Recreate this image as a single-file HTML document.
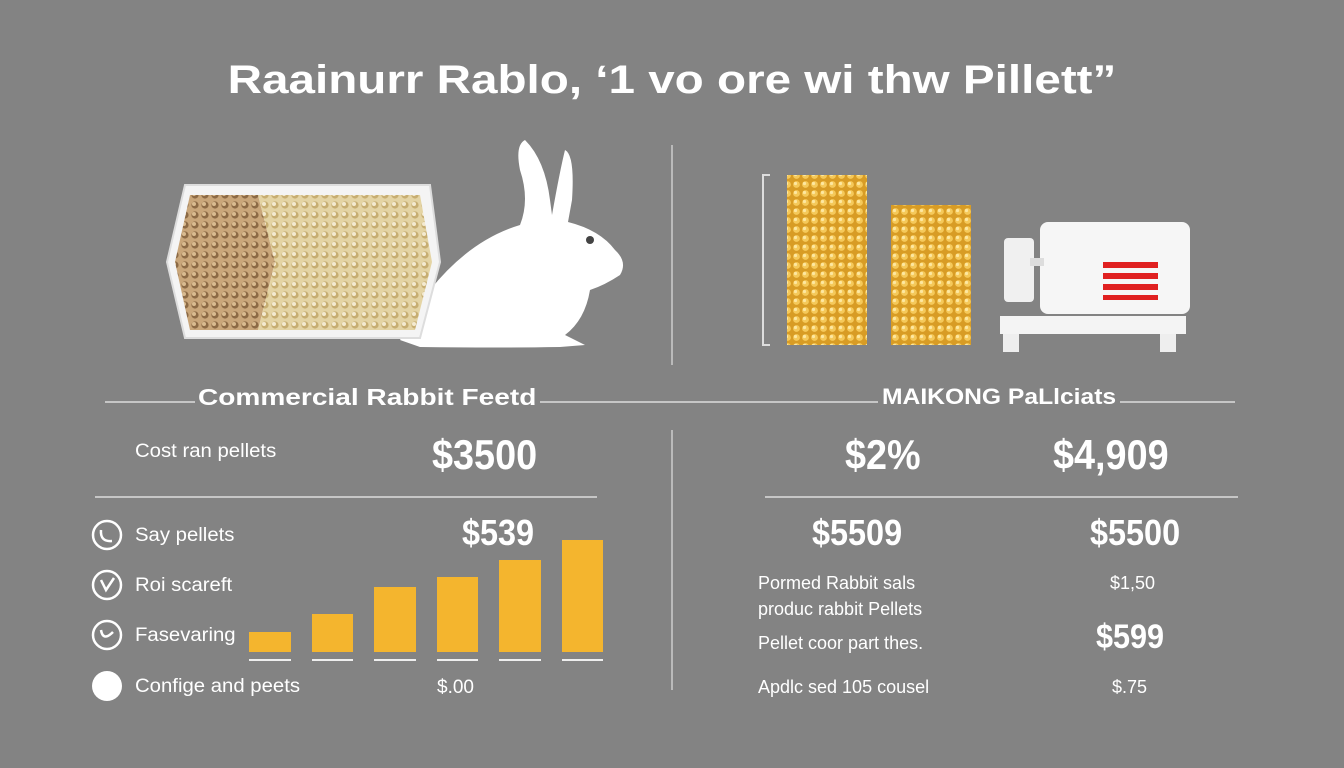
<!DOCTYPE html>
<html><head><meta charset="utf-8"><style>
html,body{margin:0;padding:0}
body{width:1344px;height:768px;background:#838383;overflow:hidden;position:relative;font-family:"Liberation Sans",sans-serif;color:#fff}
.t{position:absolute;white-space:nowrap;line-height:1}
.b{font-weight:bold}
</style></head><body>
<svg width="1344" height="768" style="position:absolute;left:0;top:0">
<defs>
<pattern id="p1" width="10" height="10" patternUnits="userSpaceOnUse"><rect width="10" height="10" fill="#c9a67a"/><circle cx="5" cy="5" r="3.6" fill="#8c6a45"/><circle cx="4" cy="4" r="2" fill="#d9bb90"/></pattern>
<pattern id="p2" width="10" height="10" patternUnits="userSpaceOnUse"><rect width="10" height="10" fill="#e4d4a4"/><circle cx="5" cy="5" r="3.6" fill="#c7ae72"/><circle cx="4" cy="4" r="2" fill="#f4ead0"/></pattern>
<pattern id="p3" width="9" height="9" patternUnits="userSpaceOnUse"><rect width="9" height="9" fill="#d89c25"/><circle cx="4.5" cy="4.5" r="3.4" fill="#f5c95a"/><circle cx="3.5" cy="3.5" r="1.6" fill="#fde7a0"/></pattern>
</defs>
<path d="M400 340 L430 290 Q470 240 520 225 Q530 200 520 170 Q515 145 525 140 Q545 160 550 200 L552 215 Q560 170 565 150 Q575 155 572 200 L568 222 Q600 230 615 250 Q628 262 620 275 Q605 285 590 290 Q585 320 565 335 L585 345 L560 347 Q500 348 420 347 Z" fill="#fff"/>
<circle cx="590" cy="240" r="4" fill="#444"/>
<path d="M185 185 L430 185 L440 262 L420 338 L185 338 L167 262 Z" fill="#f4f4f4" stroke="#ddd" stroke-width="2"/>
<path d="M190 195 L258 195 L275 262 L258 330 L190 330 L175 262 Z" fill="url(#p1)"/>
<path d="M258 195 L420 195 L432 262 L415 330 L258 330 L275 262 Z" fill="url(#p2)"/>
<line x1="672" y1="145" x2="672" y2="365" stroke="#ccc" stroke-width="1.5"/>
<path d="M770 175 L763 175 L763 345 L770 345" fill="none" stroke="#ddd" stroke-width="2"/>
<rect x="787" y="175" width="80" height="170" fill="url(#p3)"/>
<rect x="891" y="205" width="80" height="140" fill="url(#p3)"/>
<rect x="1040" y="222" width="150" height="92" rx="8" fill="#f6f6f6"/>
<rect x="1004" y="238" width="30" height="64" rx="4" fill="#f0f0f0"/>
<rect x="1030" y="258" width="14" height="8" fill="#ddd"/>
<rect x="1103" y="262" width="55" height="6" fill="#e02020"/>
<rect x="1103" y="273" width="55" height="6" fill="#e02020"/>
<rect x="1103" y="284" width="55" height="6" fill="#e02020"/>
<rect x="1103" y="295" width="55" height="5" fill="#e02020"/>
<rect x="1000" y="316" width="186" height="18" fill="#f4f4f4"/>
<rect x="1003" y="334" width="16" height="18" fill="#eee"/>
<rect x="1160" y="334" width="16" height="18" fill="#eee"/>
<line x1="105" y1="402" x2="195" y2="402" stroke="#ddd" stroke-width="1.5"/>
<line x1="540" y1="402" x2="878" y2="402" stroke="#ddd" stroke-width="1.5"/>
<line x1="1120" y1="402" x2="1235" y2="402" stroke="#ddd" stroke-width="1.5"/>
<line x1="672" y1="430" x2="672" y2="690" stroke="#ccc" stroke-width="1.5"/>
<line x1="95" y1="497" x2="597" y2="497" stroke="#ddd" stroke-width="1.5"/>
<line x1="765" y1="497" x2="1238" y2="497" stroke="#ddd" stroke-width="1.5"/>
<g fill="#f4b52e">
<rect x="249" y="632" width="42" height="20"/><rect x="312" y="614" width="41" height="38"/>
<rect x="374" y="587" width="42" height="65"/><rect x="437" y="577" width="41" height="75"/>
<rect x="499" y="560" width="42" height="92"/><rect x="562" y="540" width="41" height="112"/>
</g>
<g stroke="#eee" stroke-width="2">
<line x1="249" y1="660" x2="291" y2="660"/><line x1="312" y1="660" x2="353" y2="660"/>
<line x1="374" y1="660" x2="416" y2="660"/><line x1="437" y1="660" x2="478" y2="660"/>
<line x1="499" y1="660" x2="541" y2="660"/><line x1="562" y1="660" x2="603" y2="660"/>
</g>
<g fill="none" stroke="#fff" stroke-width="2.5">
<circle cx="107" cy="535" r="14"/><circle cx="107" cy="585" r="14"/><circle cx="107" cy="635" r="14"/>
<path d="M101 580 L106 590 L114 578"/><path d="M101 530 Q100 542 112 541"/><path d="M101 630 Q103 642 113 632"/>
</g>
<circle cx="107" cy="686" r="15" fill="#fff"/>
</svg>
<div class="t b" style="left:0;width:1344px;text-align:center;top:60px;font-size:40px;transform:scaleX(1.19)">Raainurr Rablo, ‘1 vo ore wi thw Pillett”</div>
<div class="t b" style="left:198px;top:386px;font-size:23px;transform:scaleX(1.22);transform-origin:left">Commercial Rabbit Feetd</div>
<div class="t b" style="left:882px;top:386px;font-size:22px;transform:scaleX(1.12);transform-origin:left">MAIKONG PaLlciats</div>
<div class="t" style="left:135px;top:442px;font-size:19px;transform:scaleX(1.07);transform-origin:left">Cost ran pellets</div>
<div class="t b" style="left:432px;top:434px;font-size:42px;transform:scaleX(.9);transform-origin:left">$3500</div>
<div class="t b" style="left:462px;top:515px;font-size:36px;transform:scaleX(.9);transform-origin:left">$539</div>
<div class="t" style="left:135px;top:526px;font-size:19px;transform:scaleX(1.07);transform-origin:left">Say pellets</div>
<div class="t" style="left:135px;top:576px;font-size:19px;transform:scaleX(1.07);transform-origin:left">Roi scareft</div>
<div class="t" style="left:135px;top:626px;font-size:19px;transform:scaleX(1.07);transform-origin:left">Fasevaring</div>
<div class="t" style="left:135px;top:677px;font-size:19px;transform:scaleX(1.07);transform-origin:left">Confige and peets</div>
<div class="t" style="left:437px;top:678px;font-size:19px">$.00</div>
<div class="t b" style="left:845px;top:434px;font-size:42px;transform:scaleX(.9);transform-origin:left">$2%</div>
<div class="t b" style="left:1053px;top:434px;font-size:42px;transform:scaleX(.9);transform-origin:left">$4,909</div>
<div class="t b" style="left:812px;top:515px;font-size:36px;transform:scaleX(.9);transform-origin:left">$5509</div>
<div class="t b" style="left:1090px;top:515px;font-size:36px;transform:scaleX(.9);transform-origin:left">$5500</div>
<div class="t" style="left:758px;top:574px;font-size:18px">Pormed Rabbit sals</div>
<div class="t" style="left:758px;top:600px;font-size:18px">produc rabbit Pellets</div>
<div class="t" style="left:758px;top:634px;font-size:18px">Pellet coor part thes.</div>
<div class="t" style="left:758px;top:678px;font-size:18px">Apdlc sed 105 cousel</div>
<div class="t" style="left:1110px;top:574px;font-size:18px">$1,50</div>
<div class="t b" style="left:1096px;top:620px;font-size:34px;transform:scaleX(.9);transform-origin:left">$599</div>
<div class="t" style="left:1112px;top:678px;font-size:18px">$.75</div>
</body></html>
